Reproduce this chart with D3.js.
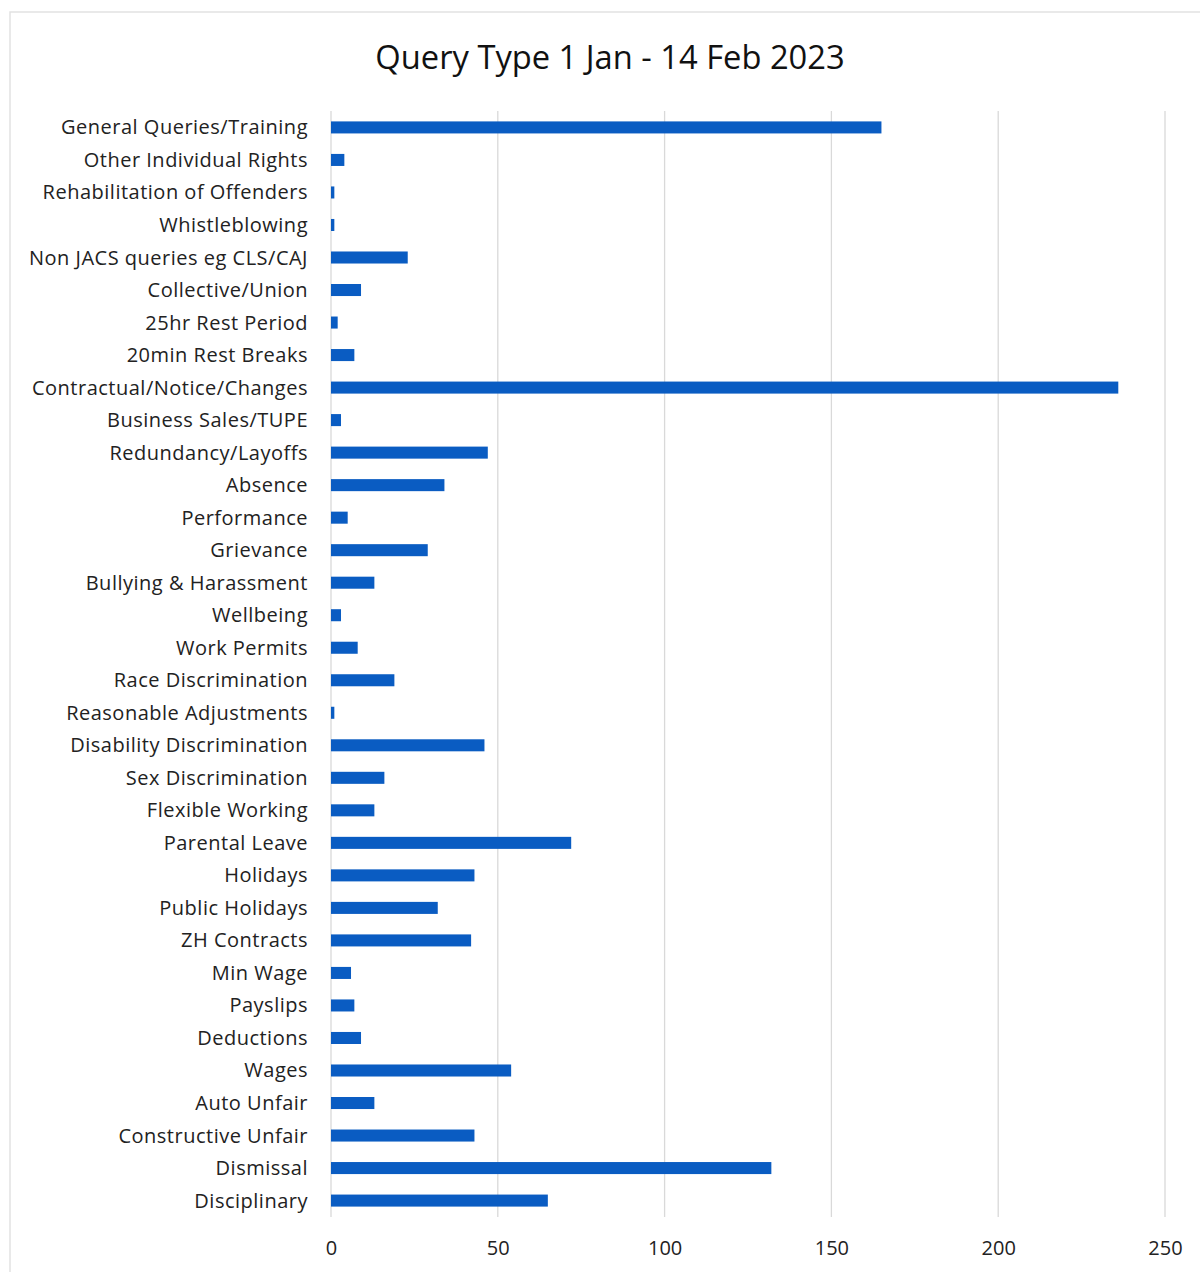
<!DOCTYPE html>
<html><head><meta charset="utf-8">
<script src="https://cdn.jsdelivr.net/npm/d3@7"></script>
<style>body{margin:0;background:#fff}svg{display:block}</style>
</head><body>
<svg id="c" width="1200" height="1272"></svg>
<script>
const categories = ["General Queries/Training","Other Individual Rights","Rehabilitation of Offenders","Whistleblowing","Non JACS queries eg CLS/CAJ","Collective/Union","25hr Rest Period","20min Rest Breaks","Contractual/Notice/Changes","Business Sales/TUPE","Redundancy/Layoffs","Absence","Performance","Grievance","Bullying & Harassment","Wellbeing","Work Permits","Race Discrimination","Reasonable Adjustments","Disability Discrimination","Sex Discrimination","Flexible Working","Parental Leave","Holidays","Public Holidays","ZH Contracts","Min Wage","Payslips","Deductions","Wages","Auto Unfair","Constructive Unfair","Dismissal","Disciplinary"];
const values = [165,4,1,1,23,9,2,7,236,3,47,34,5,29,13,3,8,19,1,46,16,13,72,43,32,42,6,7,9,54,13,43,132,65];
const ticks = [0,50,100,150,200,250];
const title = "Query Type 1 Jan - 14 Feb 2023";

const svg = d3.select("#c");
const font = "'Open Sans', 'Noto Sans', sans-serif";
svg.append("rect").attr("x",10).attr("y",12).attr("width",1195).attr("height",1270)
  .attr("fill","none").attr("stroke","#e2e2e2").attr("stroke-width",1.5);

const x = d3.scaleLinear().domain([0,250]).range([331,1165]);
const y = d3.scaleBand().domain(categories).range([111,1217]).paddingInner(0.63).paddingOuter(0.32);

svg.append("g").selectAll("line").data(ticks).join("line")
  .attr("x1",d=>x(d)).attr("x2",d=>x(d)).attr("y1",111).attr("y2",1217)
  .attr("stroke","#d9d9d9").attr("stroke-width",1.3);

svg.append("g").selectAll("rect").data(values).join("rect")
  .attr("x",x(0)).attr("y",(d,i)=>y(categories[i]))
  .attr("width",d=>x(d)-x(0)).attr("height",y.bandwidth())
  .attr("fill","#0a5cc2");

svg.append("g").selectAll("text").data(categories).join("text")
  .attr("x",308).attr("y",d=>y(d)+y.bandwidth()/2).attr("dy","0.35em")
  .attr("text-anchor","end").attr("font-family",font).attr("font-size",20).attr("letter-spacing",0.5).attr("fill","#222")
  .text(d=>d);

const xAxis = d3.axisBottom(x).tickValues(ticks).tickSize(0).tickPadding(0);
const ga = svg.append("g").attr("transform","translate(0,1248)").call(xAxis);
ga.select(".domain").remove();
ga.selectAll("text").attr("font-family",font).attr("font-size",20).attr("fill","#222").attr("dy","0.35em");

svg.append("text").attr("x",610).attr("y",58).attr("dy","0.35em").attr("text-anchor","middle")
  .attr("font-family",font).attr("font-size",32.7).attr("fill","#111").text(title);
</script>
</body></html>
